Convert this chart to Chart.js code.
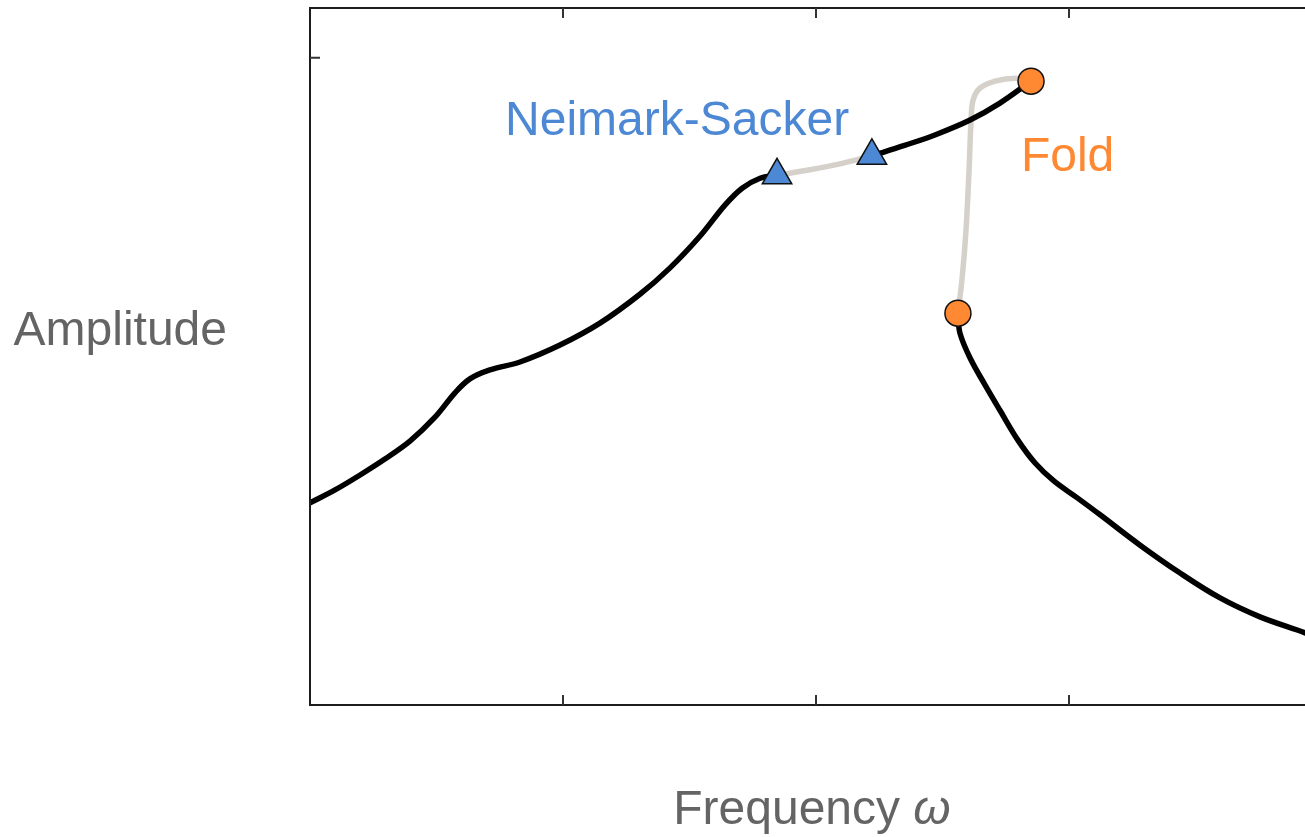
<!DOCTYPE html>
<html>
<head>
<meta charset="utf-8">
<title>Frequency response</title>
<script src="https://cdn.jsdelivr.net/npm/chart.js@4.4.1/dist/chart.umd.min.js"></script>
<style>
    html, body { margin: 0; padding: 0; overflow: hidden; background: #fff; }
    canvas { display: block; }
</style>
</head>
<body>
<canvas id="response_chart" width="1330" height="837"></canvas>
<script>
// branches of the response curve, [frequency, amplitude]
const stable_low = [
    [0, 4.06], [0.099, 4.32], [0.198, 4.62], [0.296, 4.94], [0.395, 5.30],
    [0.494, 5.78], [0.573, 6.27], [0.632, 6.55], [0.711, 6.73], [0.830, 6.89],
    [0.988, 7.23], [1.146, 7.67], [1.304, 8.25], [1.423, 8.78], [1.542, 9.42],
    [1.640, 10.04], [1.708, 10.38], [1.779, 10.58], [1.846, 10.64]
]
const unstable_ns = [
    [1.846, 10.64], [1.976, 10.75], [2.095, 10.87], [2.221, 11.03]
]
const stable_high = [
    [2.221, 11.03], [2.350, 11.24], [2.470, 11.45], [2.609, 11.75],
    [2.727, 12.09], [2.850, 12.53]
]
const unstable_fold = [
    [2.850, 12.53], [2.787, 12.59], [2.708, 12.53], [2.648, 12.39],
    [2.621, 12.15], [2.613, 11.75], [2.605, 10.75], [2.593, 9.54],
    [2.577, 8.54], [2.561, 7.87]
]
const stable_right = [
    [2.561, 7.87], [2.569, 7.47], [2.609, 6.97], [2.668, 6.43], [2.727, 5.92],
    [2.798, 5.32], [2.866, 4.86], [2.940, 4.50], [3.030, 4.17], [3.123, 3.82],
    [3.281, 3.21], [3.439, 2.65], [3.597, 2.15], [3.755, 1.77], [3.933, 1.45],
    [4.0, 1.31]
]
const ns_points = [[1.846, 10.64], [2.221, 11.03]]
const fold_points = [[2.850, 12.53], [2.561, 7.87]]

const x_ticks = [1, 2, 3]
const y_ticks = [13]

// annotation text: [text, x, y]
const ns_label = ['Neimark-Sacker', 1.451, 11.72]
const fold_label = ['Fold', 2.81, 11.0]
const x_title = 'Frequency '
const x_title_symbol = 'ω'
const y_title = 'Amplitude'

const BLACK = '#000000'
const GREY = '#d5d1ca'
const BLUE = '#4d88d4'
const ORANGE = '#ff8833'
const TEXT_GREY = '#646464'
const FONT = '"Liberation Sans", Arial, sans-serif'
const FONT_SIZE = 48

const toXY = arr => arr.map(p => ({x: p[0], y: p[1]}))

function lineSet(points, color) {
    return {
        data: toXY(points),
        borderColor: color,
        borderWidth: 5.5,
        borderCapStyle: 'round',
        borderJoinStyle: 'round',
        pointRadius: 0,
        tension: 0.35,
        fill: false
    }
}

function markerSet(points, style, radius, color) {
    return {
        data: toXY(points),
        showLine: false,
        pointStyle: style,
        pointRadius: radius,
        pointHoverRadius: radius,
        pointBackgroundColor: color,
        pointBorderColor: '#111111',
        pointBorderWidth: 1.5
    }
}

// frame, inward ticks and the text
const framePlugin = {
    id: 'frame',
    afterDraw(chart) {
        const ctx = chart.ctx
        const a = chart.chartArea
        const xs = chart.scales.x
        const ys = chart.scales.y
        ctx.save()
        ctx.strokeStyle = '#1c1c1c'
        ctx.lineWidth = 2
        ctx.strokeRect(a.left, a.top, a.right - a.left, a.bottom - a.top)

        ctx.strokeStyle = '#333333'
        ctx.beginPath()
        x_ticks.forEach(t => {
            const px = xs.getPixelForValue(t)
            ctx.moveTo(px, a.top); ctx.lineTo(px, a.top + 10)
            ctx.moveTo(px, a.bottom); ctx.lineTo(px, a.bottom - 10)
        })
        y_ticks.forEach(t => {
            const py = ys.getPixelForValue(t)
            ctx.moveTo(a.left, py); ctx.lineTo(a.left + 10, py)
            ctx.moveTo(a.right, py); ctx.lineTo(a.right - 10, py)
        })
        ctx.stroke()

        ctx.textBaseline = 'middle'
        ctx.font = FONT_SIZE + 'px ' + FONT

        ctx.fillStyle = BLUE
        ctx.textAlign = 'center'
        ctx.fillText(ns_label[0], xs.getPixelForValue(ns_label[1]), ys.getPixelForValue(ns_label[2]))

        ctx.fillStyle = ORANGE
        ctx.textAlign = 'left'
        ctx.fillText(fold_label[0], xs.getPixelForValue(fold_label[1]), ys.getPixelForValue(fold_label[2]))

        ctx.fillStyle = TEXT_GREY
        ctx.textAlign = 'right'
        ctx.fillText(y_title, a.left - 83, (a.top + a.bottom) / 2 - 25)

        // x title: plain word then italic omega
        ctx.textAlign = 'left'
        const w1 = ctx.measureText(x_title).width
        ctx.font = 'italic ' + FONT_SIZE + 'px ' + FONT
        const w2 = ctx.measureText(x_title_symbol).width
        const start = (a.left + a.right) / 2 - 4 - (w1 + w2) / 2
        ctx.font = FONT_SIZE + 'px ' + FONT
        ctx.fillText(x_title, start, 811)
        ctx.font = 'italic ' + FONT_SIZE + 'px ' + FONT
        ctx.fillText(x_title_symbol, start + w1, 811)
        ctx.restore()
    }
}

const ctx_response = document.getElementById('response_chart').getContext('2d')
const response_chart = new Chart(ctx_response, {
    type: 'line',
    data: {
        datasets: [
            markerSet(ns_points, 'triangle', 17, BLUE),
            markerSet(fold_points, 'circle', 13, ORANGE),
            lineSet(stable_low, BLACK),
            lineSet(stable_high, BLACK),
            lineSet(stable_right, BLACK),
            lineSet(unstable_ns, GREY),
            lineSet(unstable_fold, GREY)
        ]
    },
    options: {
        responsive: false,
        animation: false,
        events: [],
        layout: {
            autoPadding: false,
            padding: {left: 310, right: 8, top: 8, bottom: 132}
        },
        plugins: {
            legend: {display: false},
            tooltip: {enabled: false}
        },
        scales: {
            x: {type: 'linear', min: 0, max: 4, display: false},
            y: {type: 'linear', min: 0, max: 14, display: false}
        }
    },
    plugins: [framePlugin]
})
</script>
</body>
</html>
